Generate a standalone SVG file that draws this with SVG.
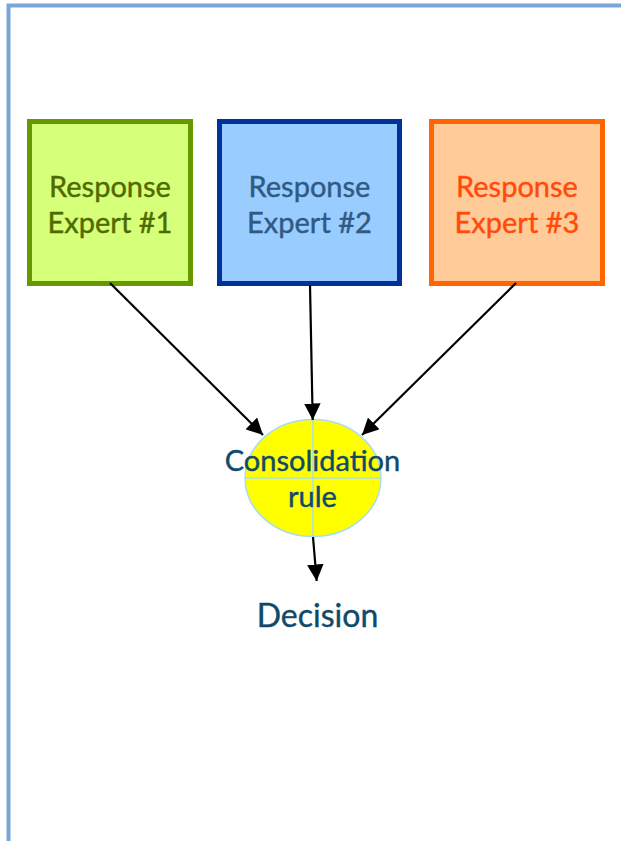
<svg xmlns="http://www.w3.org/2000/svg" width="621" height="841" viewBox="0 0 621 841">
  <style>
    .frame { fill: none; stroke: #7aa6d6; stroke-width: 4; }
    .box { stroke-width: 5; }
    .lbl { font-family: Lato, "Open Sans", "Liberation Sans", sans-serif; font-size: 29px; text-anchor: middle; stroke-width: 0.4; }
    .edge { stroke: #000; stroke-width: 2.2; fill: none; marker-end: url(#arrow); }
    .split { stroke: #a8dcf0; stroke-width: 1.5; }
  </style>
  <defs>
    <marker id="arrow" viewBox="0 0 10 10" refX="10" refY="5" markerWidth="7.5" markerHeight="7.5" markerUnits="strokeWidth" orient="auto">
      <path d="M0,0 L10,5 L0,10 Z" fill="#000"/>
    </marker>
  </defs>

  <rect width="621" height="841" fill="#fff"/>
  <!-- page frame: top and left rules -->
  <path class="frame" d="M8.5,841 V5.5 H621"/>

  <g id="expert1">
    <rect class="box" x="29.5" y="121.5" width="161" height="162" fill="#d6ff7a" stroke="#669900"/>
    <text class="lbl" fill="#4f6b00" stroke="#4f6b00" x="110" y="197">Response</text>
    <text class="lbl" fill="#4f6b00" stroke="#4f6b00" x="110" y="233">Expert #1</text>
  </g>

  <g id="expert2">
    <rect class="box" x="219.5" y="121.5" width="180" height="162" fill="#99ccff" stroke="#003399"/>
    <text class="lbl" fill="#2f5a82" stroke="#2f5a82" x="309.5" y="197">Response</text>
    <text class="lbl" fill="#2f5a82" stroke="#2f5a82" x="309.5" y="233">Expert #2</text>
  </g>

  <g id="expert3">
    <rect class="box" x="431.5" y="121.5" width="171" height="162" fill="#ffcc99" stroke="#ff6600"/>
    <text class="lbl" fill="#ff4a0a" stroke="#ff4a0a" x="517" y="197">Response</text>
    <text class="lbl" fill="#ff4a0a" stroke="#ff4a0a" x="517" y="233">Expert #3</text>
  </g>

  <g id="consolidation">
    <ellipse cx="313" cy="478" rx="68" ry="58.5" fill="#ffff00" stroke="#a8dcf0" stroke-width="1.5"/>
    <line class="split" x1="313" y1="419.5" x2="313" y2="536.5"/>
    <line class="split" x1="245" y1="478" x2="381" y2="478"/>
    <text class="lbl" fill="#0f4a6b" stroke="#0f4a6b" x="312.5" y="471">Consolidation</text>
    <text class="lbl" fill="#0f4a6b" stroke="#0f4a6b" x="312.5" y="507">rule</text>
  </g>

  <g id="decision">
    <text class="lbl" fill="#0f4a6b" stroke="#0f4a6b" x="317.5" y="627" style="font-size:32px">Decision</text>
  </g>

  <g id="connectors">
    <line class="edge" x1="110" y1="283" x2="263" y2="435"/>
    <line class="edge" x1="310" y1="285" x2="312.7" y2="420"/>
    <line class="edge" x1="516" y1="283" x2="362" y2="435"/>
    <line class="edge" x1="313" y1="537" x2="316.7" y2="581"/>
  </g>
</svg>
